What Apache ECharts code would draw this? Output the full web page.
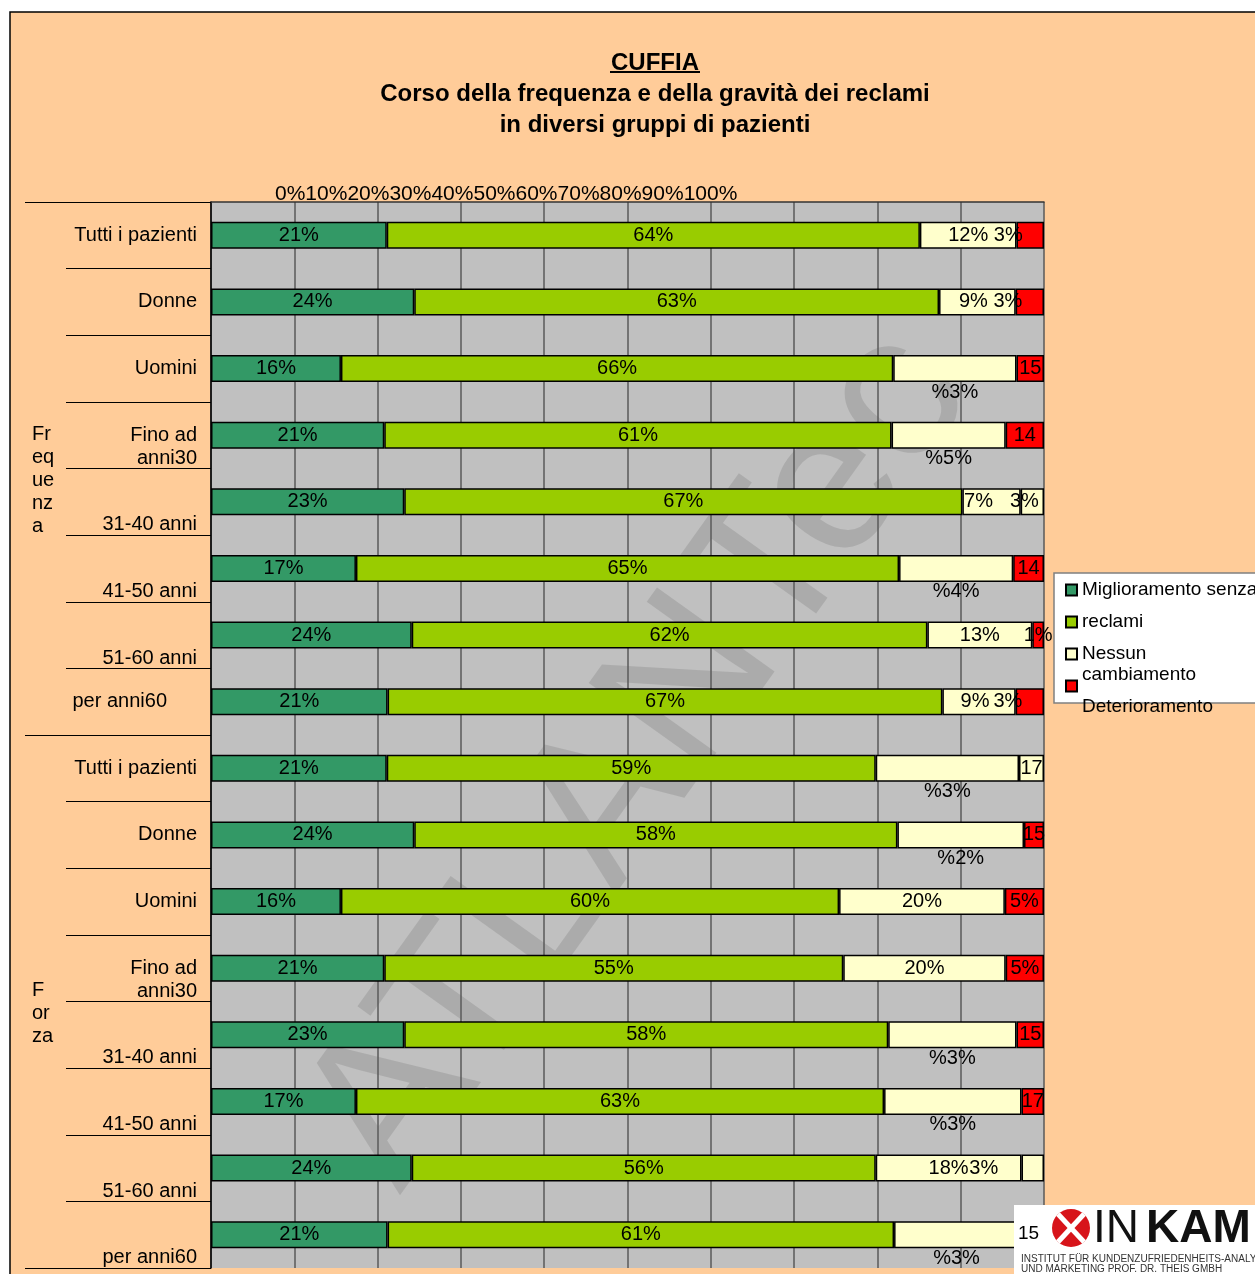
<!DOCTYPE html>
<html>
<head>
<meta charset="utf-8">
<script src="https://cdn.jsdelivr.net/npm/echarts@6/dist/echarts.min.js"></script>
<style>
html,body{margin:0;padding:0;background:#fff;}
#chart{width:1255px;height:1274px;}
</style>
</head>
<body>
<div id="chart"></div>
<script>
// dati (percentuali per riga)
var categories = ['Tutti i pazienti','Donne','Uomini','Fino ad anni30','31-40 anni','41-50 anni','51-60 anni','per anni60',
    'Tutti i pazienti','Donne','Uomini','Fino ad anni30','31-40 anni','41-50 anni','51-60 anni','per anni60'];
var groupLabels = ['Fr\neq\nue\nnz\na', 'F\nor\nza'];
var seriesNames = ['Miglioramento','senza reclami','Nessun cambiamento','Deterioramento'];
// testo della legenda come appare (a capo sbagliato di Excel)
var legendText = ['Miglioramento senza','reclami','Nessun',' '];
var legendExtra = ['cambiamento','Deterioramento'];
var xTicks = ['0%','10%','20%','30%','40%','50%','60%','70%','80%','90%','100%'];

var miglioramento     = [21.1,24.4,15.6,20.8,23.2,17.4,24.1,21.2, 21.1,24.4,15.6,20.8,23.2,17.4,24.1,21.2];
var senzaReclami      = [64.0,63.0,66.3,60.9,67.0,65.2,61.9,66.6, 58.7,58.0,59.8,55.1,58.1,63.4,55.7,60.8];
var nessunCambiamento = [11.6, 9.2,14.8,13.7, 7.0,13.7,12.6, 8.8, 17.2,15.2,19.9,19.5,15.4,16.5,17.5,15.0];
var deterioramento    = [ 3.3, 3.4, 3.3, 4.6, 2.8, 3.7, 1.4, 3.4,  3.0, 2.4, 4.7, 4.6, 3.3, 2.7, 2.7, 3.0];

// come Excel ha disposto etichette / colori
var splitRows = [2,3,5,8,9,12,13,15];   // etichetta "%x%" sotto la barra
var paleTailRows = [4,8,14];            // ultimo pezzo senza rosso
var labelDrop = [0,0,0,1,2,2,2,0, 0,0,0,1,2,2,2,2];
var tailShift = [-22,-22,0,0,-8,0,0,-22, 0,0,0,0,0,0,-49,0];
var thirdShift = [0,-4,0,0,-13,0,0,-4, 0,0,0,0,0,0,0,0];

var colors = ['#339966','#99CC00','#FFFFCC','#FF0000'];
var FONT = '"Liberation Sans", Arial, sans-serif';

var chart = echarts.init(document.getElementById('chart'));

function pct(v){ return Math.round(v) + '%'; }

var values = [miglioramento, senzaReclami, nessunCambiamento, deterioramento];
var series = values.map(function(arr, si){
    return {
        name: seriesNames[si],
        type: 'bar',
        stack: 'tot',
        barWidth: 27,
        itemStyle: { color: colors[si], borderColor: '#000', borderWidth: 1.5 },
        label: {
            show: true,
            position: 'inside',
            color: '#000',
            fontSize: 20,
            fontFamily: FONT,
            formatter: function(p){
                var i = p.dataIndex;
                var split = splitRows.indexOf(i) >= 0;
                if (si == 2 && split) return '%' + Math.round(deterioramento[i]) + '%';
                if (si == 3 && split) return String(Math.round(nessunCambiamento[i]));
                return pct(p.value);
            }
        },
        data: arr.map(function(v, i){
            var item = { value: v };
            if (si == 2 && splitRows.indexOf(i) >= 0) {
                item.label = { position: 'bottom', distance: 0 };
            } else if (si == 2 && thirdShift[i]) {
                item.label = { offset: [thirdShift[i], 0] };
            }
            if (si == 3 && tailShift[i]) {
                item.label = { offset: [tailShift[i], 0] };
            }
            if (si == 3 && paleTailRows.indexOf(i) >= 0) {
                item.itemStyle = { color: colors[2] };
            }
            return item;
        })
    };
});

var option = {
    backgroundColor: '#fff',
    animation: false,
    textStyle: { fontFamily: FONT },
    title: {
        left: 650,
        top: 43,
        textAlign: 'center',
        text: '{a|CUFFIA}\n{a|Corso della frequenza e della gravità dei reclami}\n{a|in diversi gruppi di pazienti}',
        textStyle: {
            rich: {
                a: { fontSize: 24, fontWeight: 'bold', color: '#000', lineHeight: 31, fontFamily: FONT }
            }
        }
    },
    legend: {
        orient: 'vertical',
        left: 1054,
        top: 573,
        padding: [6, 12, 6, 11],
        itemGap: 10,
        itemWidth: 11,
        itemHeight: 11,
        icon: 'rect',
        backgroundColor: '#fff',
        borderColor: '#808080',
        borderWidth: 1.5,
        data: seriesNames,
        formatter: function(name){ return legendText[seriesNames.indexOf(name)]; },
        textStyle: { fontSize: 19, color: '#000', lineHeight: 22, fontFamily: FONT }
    },
    grid: {
        left: 211,
        right: 211,
        top: 202,
        bottom: 6,
        show: true,
        backgroundColor: '#C0C0C0',
        borderWidth: 0
    },
    xAxis: {
        type: 'value',
        position: 'top',
        min: 0,
        max: 100,
        interval: 10,
        axisLabel: { show: false },
        axisTick: { show: false },
        axisLine: { show: true, lineStyle: { color: '#333', width: 1.5 } },
        splitLine: { show: true, lineStyle: { color: '#5a5a5a', width: 1.5 } }
    },
    yAxis: [
        {
            type: 'category',
            inverse: true,
            data: categories,
            axisLine: { show: true, lineStyle: { color: '#000', width: 1.5 } },
            axisTick: { show: true, length: 145, interval: 0, lineStyle: { color: '#000', width: 1.2 } },
            axisLabel: {
                interval: 0,
                margin: 14,
                fontSize: 20,
                lineHeight: 23,
                color: '#000',
                fontFamily: FONT,
                rich: {
                    r: { fontSize: 20, lineHeight: 23, padding: [0, 30, 0, 0], fontFamily: FONT, color: '#000' }
                },
                formatter: function(v, i){
                    if (i == 7) return '{r|' + v + '}';
                    var t = v.replace(' anni30', '\nanni30');
                    for (var k = 0; k < labelDrop[i]; k++) t = '\n' + t;
                    return t;
                }
            }
        },
        {
            type: 'category',
            inverse: true,
            position: 'left',
            data: groupLabels,
            axisLine: { show: false },
            axisTick: { show: true, length: 186, interval: 0, lineStyle: { color: '#000', width: 1.2 } },
            axisLabel: {
                interval: 0,
                align: 'left',
                margin: 179,
                fontSize: 20,
                lineHeight: 23,
                color: '#000',
                fontFamily: FONT,
                formatter: function(v){ return '\n' + v; }
            }
        }
    ],
    graphic: [
        {
            type: 'rect',
            z: -10,
            shape: { x: 10, y: 12, width: 1400, height: 1400 },
            style: { fill: '#FFCC99', stroke: '#000', lineWidth: 1.5 }
        },
        {
            type: 'line',
            z: 5,
            shape: { x1: 610, y1: 72, x2: 700, y2: 72 },
            style: { stroke: '#000', lineWidth: 2 }
        },
        {
            type: 'text',
            z: 5,
            x: 275,
            y: 194,
            style: { text: xTicks.join(''), fontSize: 21, fontFamily: FONT, fill: '#000', verticalAlign: 'middle' }
        },
        {
            type: 'text',
            z: 20,
            x: 1082,
            y: 675,
            style: { text: legendExtra[0], fontSize: 19, fontFamily: FONT, fill: '#000', verticalAlign: 'middle' }
        },
        {
            type: 'text',
            z: 20,
            x: 1082,
            y: 707,
            style: { text: legendExtra[1], fontSize: 19, fontFamily: FONT, fill: '#000', verticalAlign: 'middle' }
        },
        {
            type: 'text',
            z: 1,
            x: 640,
            y: 760,
            rotation: 0.95,
            style: {
                text: 'ATLANTec',
                fontSize: 210,
                fontFamily: FONT,
                fill: 'rgba(90,90,90,0.2)',
                align: 'center',
                verticalAlign: 'middle'
            }
        },
        {
            type: 'group',
            z: 10,
            children: [
                { type: 'rect', z: 10, shape: { x: 1014, y: 1205, width: 260, height: 80 }, style: { fill: '#fff' } },
                { type: 'text', z: 11, x: 1018, y: 1234, style: { text: '15', fontSize: 19, fontFamily: FONT, fill: '#000', verticalAlign: 'middle' } },
                { type: 'circle', z: 11, shape: { cx: 1071, cy: 1228, r: 19 }, style: { fill: '#D7141A' } },
                { type: 'line', z: 12, shape: { x1: 1058, y1: 1214, x2: 1084, y2: 1242 }, style: { stroke: '#fff', lineWidth: 5 } },
                { type: 'line', z: 12, shape: { x1: 1084, y1: 1214, x2: 1058, y2: 1242 }, style: { stroke: '#fff', lineWidth: 5 } },
                { type: 'text', z: 11, x: 1093, y: 1229, style: { text: 'IN', fontSize: 46, fontFamily: FONT, fill: '#111', verticalAlign: 'middle' } },
                { type: 'text', z: 11, x: 1146, y: 1229, style: { text: 'KAM', fontSize: 46, fontWeight: 'bold', fontFamily: FONT, fill: '#111', verticalAlign: 'middle' } },
                { type: 'text', z: 11, x: 1021, y: 1259, style: { text: 'INSTITUT FÜR KUNDENZUFRIEDENHEITS-ANALYSEN', fontSize: 10, fontFamily: FONT, fill: '#333', verticalAlign: 'middle' } },
                { type: 'text', z: 11, x: 1021, y: 1269, style: { text: 'UND MARKETING PROF. DR. THEIS GMBH', fontSize: 10, fontFamily: FONT, fill: '#333', verticalAlign: 'middle' } }
            ]
        }
    ],
    series: series
};

chart.setOption(option);
</script>
</body>
</html>
